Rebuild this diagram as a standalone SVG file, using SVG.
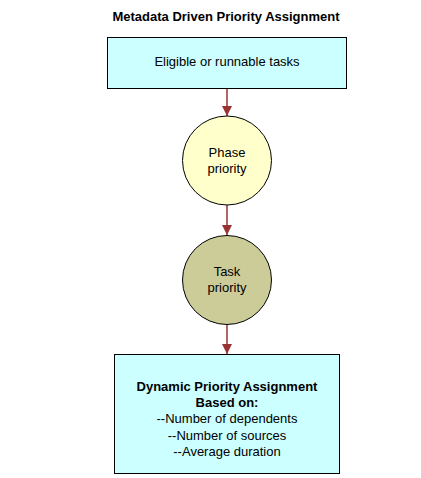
<svg xmlns="http://www.w3.org/2000/svg" width="421" height="478" viewBox="0 0 421 478">
<style>
text{font-family:"Liberation Sans",Arial,sans-serif;font-size:13px;fill:#000;text-anchor:middle}
.b{font-weight:bold}
.box{fill:#ccffff;stroke:#000;stroke-width:1}
.edge{stroke:#993333;stroke-width:1.5;fill:none}
</style>
<defs>
<marker id="ah" viewBox="0 0 10 10" refX="10" refY="5" markerWidth="10" markerHeight="10" markerUnits="userSpaceOnUse" orient="auto">
<path d="M0,0 L10,5 L0,10 z" fill="#993333"/>
</marker>
</defs>
<rect width="421" height="478" fill="#fff"/>
<text class="b" x="226" y="21">Metadata Driven Priority Assignment</text>
<g id="connectors">
<line class="edge" x1="227" y1="88" x2="227" y2="116" marker-end="url(#ah)"/>
<line class="edge" x1="227" y1="205" x2="227" y2="235" marker-end="url(#ah)"/>
<line class="edge" x1="227" y1="325" x2="227" y2="354" marker-end="url(#ah)"/>
</g>
<g id="eligible">
<rect class="box" x="107.5" y="37.5" width="239" height="51"/>
<text x="227" y="66">Eligible or runnable tasks</text>
</g>
<g id="phase">
<circle cx="227" cy="160.5" r="44.5" fill="#ffffcc" stroke="#000"/>
<text x="227" y="157">Phase</text>
<text x="227" y="173">priority</text>
</g>
<g id="task">
<circle cx="227" cy="280" r="44.5" fill="#cccc99" stroke="#000"/>
<text x="227" y="276">Task</text>
<text x="227" y="292">priority</text>
</g>
<g id="dynamic">
<rect class="box" x="114.5" y="354.5" width="225" height="119"/>
<text class="b" x="227" y="391">Dynamic Priority Assignment</text>
<text class="b" x="227" y="407">Based on:</text>
<text x="227" y="423">--Number of dependents</text>
<text x="227" y="440">--Number of sources</text>
<text x="227" y="456">--Average duration</text>
</g>
</svg>
